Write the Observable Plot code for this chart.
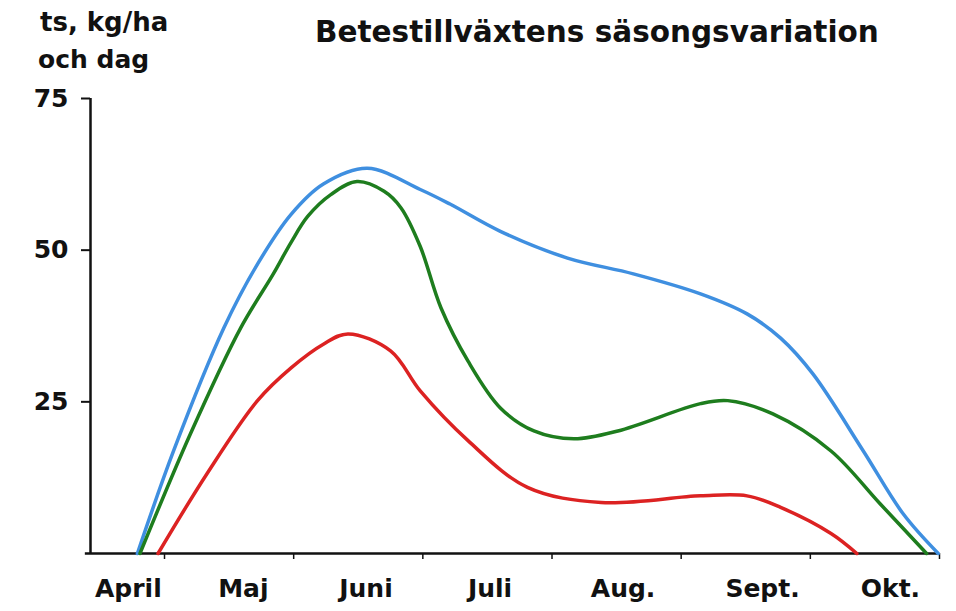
<!DOCTYPE html>
<html>
<head>
<meta charset="utf-8">
<script src="https://cdn.jsdelivr.net/npm/d3@7"></script>
<script src="https://cdn.jsdelivr.net/npm/@observablehq/plot@0.6"></script>
<style>
  html, body { margin: 0; padding: 0; background: #fff; }
  #wrap { position: relative; width: 956px; height: 611px; font-family: "DejaVu Sans", sans-serif; font-weight: bold; color: #111; }
  .lbl { position: absolute; white-space: nowrap; line-height: 25px; font-size: 25px; }
  #title { position: absolute; left: 315px; top: 18px; font-size: 29.5px; line-height: 29px; white-space: nowrap; }
  #chart { position: absolute; left: 0; top: 0; }
</style>
</head>
<body>
<div id="wrap">
  <div id="chart"></div>
  <div class="lbl" style="left:40px; top:10px; font-size:26px;">ts, kg/ha</div>
  <div class="lbl" style="left:38px; top:47px;">och dag</div>
  <div id="title">Betestillväxtens säsongsvariation</div>
</div>
<script>
// x in months since 1 April (May 1 = 1, ..., Nov 1 = 7)
const monthNames = ["April", "Maj", "Juni", "Juli", "Aug.", "Sept.", "Okt."];
const monthLabelAt = [0.72, 1.61, 2.56, 3.52, 4.55, 5.63, 6.62];
const monthStarts = [1, 2, 3, 4, 5, 6, 7];
const yTicks = [25, 50, 75];

const blueX = [0.79, 1.07, 1.46, 1.72, 1.98, 2.23, 2.57, 2.98, 3.21, 3.60, 4.12, 4.63, 5.15, 5.51, 5.77, 6.02, 6.41, 6.72, 6.99];
const blueY = [0, 16.9, 37.2, 47.7, 55.9, 60.9, 63.5, 60.0, 57.6, 53.1, 48.7, 46.1, 42.8, 39.5, 35.5, 29.6, 16.9, 6.5, 0];

const greenX = [0.81, 1.20, 1.59, 1.84, 1.98, 2.11, 2.29, 2.49, 2.70, 2.83, 2.98, 3.14, 3.35, 3.60, 3.86, 4.17, 4.51, 5.15, 5.36, 5.71, 6.16, 6.54, 6.90];
const greenY = [0, 19.7, 37.2, 46.0, 51.3, 55.6, 59.2, 61.3, 59.7, 57.0, 50.6, 40.5, 31.7, 24.0, 20.2, 18.9, 20.2, 24.7, 25.2, 23.0, 16.9, 8.2, 0];

const redX = [0.95, 1.33, 1.72, 1.98, 2.23, 2.42, 2.75, 2.98, 3.35, 3.81, 4.38, 5.15, 5.51, 5.77, 6.16, 6.36];
const redY = [0, 13.2, 25.2, 30.6, 34.5, 36.2, 33.4, 26.8, 18.6, 10.9, 8.4, 9.5, 9.5, 7.6, 3.3, 0];

const seriesNames = ["blå", "grön", "röd"];
const seriesColors = ["#3f8fe0", "#1e7d1e", "#dc2222"];

const rows = [];
[[blueX, blueY], [greenX, greenY], [redX, redY]].forEach(([xs, ys], i) => {
  xs.forEach((x, j) => rows.push({serie: seriesNames[i], x, y: ys[j]}));
});

const xMin = 0.427, xMax = 7;

const chart = Plot.plot({
  width: 956,
  height: 611,
  marginLeft: 90,
  marginRight: 17,
  marginTop: 98,
  marginBottom: 58,
  style: {fontFamily: "DejaVu Sans, sans-serif", fontWeight: "bold", color: "#111", background: "transparent", overflow: "visible"},
  x: {domain: [xMin, xMax]},
  y: {domain: [0, 75]},
  color: {domain: seriesNames, range: seriesColors},
  marks: [
    Plot.axisY({ticks: yTicks, tickSize: 9, tickPadding: 13, fontSize: 25, label: null, strokeWidth: 2}),
    Plot.axisX({ticks: monthStarts, tickSize: 6, tickFormat: () => "", label: null, strokeWidth: 1.5}),
    Plot.axisX({ticks: monthLabelAt, tickSize: 0, tickPadding: 26, tickFormat: (d, i) => monthNames[i], fontSize: 25, label: null}),
    Plot.ruleX([xMin], {y1: 0, y2: 75, stroke: "#111", strokeWidth: 2.5}),
    Plot.ruleY([0], {x1: xMin - 0.04, x2: xMax, stroke: "#111", strokeWidth: 2.5}),
    Plot.line(rows, {x: "x", y: "y", z: "serie", stroke: "serie", strokeWidth: 3.5, curve: "catmull-rom"})
  ]
});
document.getElementById("chart").appendChild(chart);
</script>
</body>
</html>
